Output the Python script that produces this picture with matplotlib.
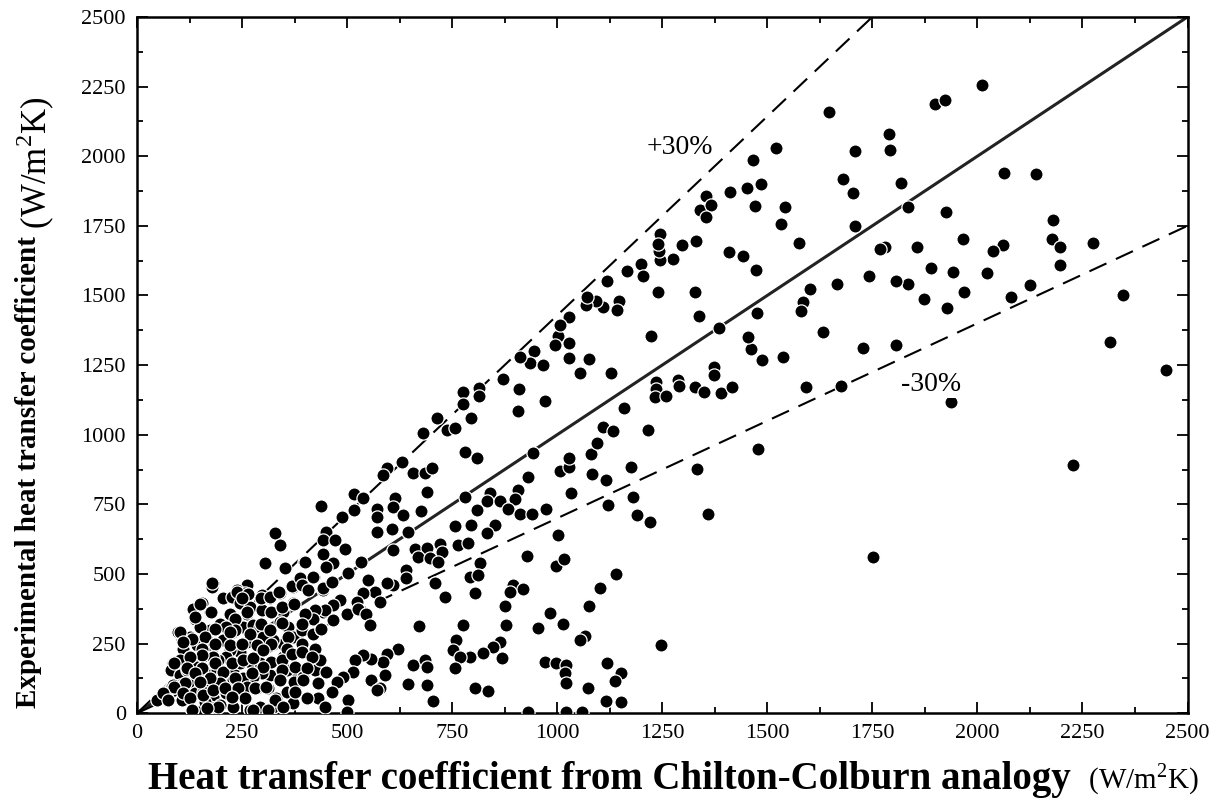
import numpy as np
import matplotlib
matplotlib.use("Agg")
import matplotlib.pyplot as plt
from matplotlib.ticker import MultipleLocator

plt.rcParams['font.family'] = ['Liberation Serif', 'DejaVu Serif']
plt.rcParams['mathtext.fontset'] = 'custom'
plt.rcParams['mathtext.rm'] = 'Liberation Serif'

points = [
    # dense cluster, low values
    (304, 538), (352, 523), (261, 460), (237, 442), (257, 430), (182, 466), (178, 454), (154, 394),
    (134, 376), (138, 340), (174, 364), (205, 412), (225, 418), (245, 394), (269, 382), (297, 424),
    (316, 412), (340, 430), (372, 454), (372, 394), (348, 364), (320, 364), (297, 370), (261, 358),
    (233, 340), (221, 358), (197, 322), (174, 298), (150, 310), (126, 274), (106, 268), (98, 292),
    (110, 232), (142, 244), (166, 262), (182, 238), (205, 262), (229, 292), (253, 310), (277, 316),
    (293, 310), (316, 298), (340, 328), (360, 310), (372, 274), (348, 250), (324, 262), (300, 274),
    (285, 244), (261, 256), (245, 220), (221, 226), (213, 202), (193, 190), (178, 202), (154, 202),
    (126, 202), (102, 190), (86, 179), (82, 155), (102, 137), (118, 155), (142, 167), (154, 125),
    (174, 137), (190, 155), (205, 143), (229, 155), (245, 179), (269, 185), (293, 179), (320, 185),
    (348, 202), (372, 214), (380, 143), (356, 155), (340, 119), (316, 137), (297, 143), (277, 131),
    (253, 125), (229, 119), (205, 95), (186, 107), (166, 101), (142, 113), (122, 107), (102, 101),
    (82, 89), (63, 71), (86, 101), (114, 71), (138, 71), (158, 77), (182, 59), (213, 71),
    (237, 89), (261, 95), (285, 89), (312, 89), (332, 53), (356, 77), (376, 83), (372, 35),
    (324, 23), (293, 23), (269, 11), (229, 23), (197, 29), (174, 23), (154, 11), (130, 11),
    (162, 41), (106, 47), (70, 59), (47, 47),
    (179, 468), (237, 436), (265, 428), (250, 412), (150, 392), (176, 364), (138, 344), (233, 340),
    (263, 364), (295, 412), (316, 418), (338, 436), (368, 456), (389, 484), (398, 544), (422, 490),
    (443, 444), (320, 364), (344, 382), (374, 392), (443, 364), (420, 340), (344, 325), (295, 322),
    (269, 286), (233, 298), (211, 308), (186, 301), (163, 274), (130, 268), (102, 292), (110, 256),
    (154, 232), (186, 250), (221, 292), (221, 244), (249, 250), (285, 244), (316, 298), (320, 250),
    (360, 274), (392, 298), (420, 286), (439, 301), (423, 232), (392, 250), (356, 232), (182, 203),
    (154, 209), (126, 203), (89, 179), (118, 164), (154, 161), (186, 179), (205, 149), (225, 179),
    (253, 191), (277, 197), (300, 226), (320, 185), (344, 191), (368, 212), (392, 220), (427, 191),
    (376, 167), (344, 155), (300, 167), (273, 143), (233, 125), (198, 107), (174, 125), (138, 143),
    (114, 107), (89, 95), (63, 71), (75, 49), (110, 71), (150, 113), (126, 53), (158, 65),
    (182, 83), (209, 89), (241, 89), (281, 92), (308, 95), (340, 119), (374, 113), (396, 131),
    (423, 155), (376, 77), (404, 53), (430, 53), (328, 47), (312, 11), (277, 11), (257, 53),
    (225, 59), (193, 23), (166, 17), (130, 13), (348, 23),
    # 400 - 800
    (451, 651), (443, 621), (471, 621), (495, 591), (443, 573), (467, 538), (451, 526), (400, 544),
    (420, 490), (392, 460), (408, 442), (443, 448), (463, 472), (503, 502), (534, 544), (570, 649),
    (608, 660), (645, 649), (610, 586), (661, 591), (689, 595), (721, 609), (669, 562), (697, 559),
    (725, 579), (717, 544), (757, 672), (796, 675), (764, 603), (788, 612), (816, 540), (792, 490),
    (812, 496), (641, 514), (641, 484), (610, 460), (594, 466), (550, 478), (566, 436), (578, 400),
    (538, 430), (523, 400), (483, 406), (467, 388), (447, 370), (423, 370), (420, 340), (400, 358),
    (392, 322), (439, 304), (467, 334), (499, 358), (526, 376), (546, 358), (554, 316), (709, 466),
    (733, 416), (804, 430), (792, 202), (776, 316), (760, 262), (753, 226), (768, 202), (757, 161),
    (672, 313), (622, 232), (594, 214), (586, 185), (558, 196), (538, 209), (519, 191), (515, 149),
    (558, 119), (578, 89), (590, 137), (570, 83), (491, 131), (475, 113), (451, 149), (435, 191),
    (416, 203), (404, 161), (396, 119), (431, 107), (463, 77), (503, 47), (447, 23), (499, 5),
    (404, 53), (657, 173), (685, 191), (689, 167), (646, 104), (689, 101), (705, 43), (804, 89),
    (814, 1166), (776, 1154), (776, 1112), (814, 1139), (796, 1061), (713, 1061), (737, 1017),
    (757, 1023), (681, 1005), (780, 939), (810, 915), (630, 903), (594, 879), (586, 855), (657, 861),
    (685, 861), (701, 879), (689, 795), (780, 777), (614, 771), (516, 787), (538, 771), (439, 744),
    (487, 705), (516, 729), (570, 735), (610, 741), (570, 705), (634, 711), (677, 727), (808, 729),
    (328, 646), (340, 604),
    # 800 - 1700
    (1002, 1354), (994, 1322), (1029, 1328), (1029, 1274), (1076, 1272), (1054, 1220), (1128, 1223),
    (945, 1302), (935, 1258), (967, 1252), (911, 1280), (870, 1199), (910, 1163), (906, 1086),
    (971, 1122), (1159, 1097), (1236, 1190), (1235, 1163), (1232, 1134), (1258, 1139), (1288, 1196),
    (1289, 1175), (1327, 1172), (1349, 1154), (1373, 1244), (1373, 1214), (1389, 1151), (1415, 1170),
    (1462, 1308), (1487, 1268), (1538, 1278), (1593, 1172), (1676, 1175), (1478, 947), (1752, 562),
    (943, 935), (931, 847), (907, 801), (899, 768), (840, 789), (832, 763), (864, 763), (883, 735),
    (911, 717), (939, 717), (973, 732), (852, 676), (832, 648), (1006, 871), (1029, 885), (1029, 918),
    (1032, 792), (1080, 931), (1094, 971), (1108, 1026), (1132, 1013), (1082, 859), (1116, 839),
    (1175, 883), (1216, 1017), (1181, 777), (1189, 711), (1220, 687), (1121, 747), (1332, 877),
    (1358, 715), (1002, 640), (929, 564), (997, 528), (1017, 552), (1141, 500), (1101, 448),
    (1076, 385), (983, 361), (1014, 319), (955, 307), (1066, 277), (1054, 262), (875, 385), (878, 315),
    (895, 460), (918, 446), (887, 436), (865, 257), (848, 239), (868, 197), (824, 215), (971, 185),
    (997, 179), (1022, 173), (1018, 143), (1021, 109), (1119, 181), (1153, 145), (1137, 116),
    (1074, 89), (1117, 45), (1151, 39), (836, 81), (1247, 245), (931, 5), (1021, 5), (1060, 5),
    (1647, 2157), (1521, 2031), (1708, 2019), (1466, 1987), (1680, 1918), (1705, 1869), (1412, 1873),
    (1452, 1885), (1485, 1901), (1470, 1822), (1542, 1818), (1533, 1757), (1355, 1857), (1339, 1807),
    (1367, 1825), (1355, 1783), (1708, 1751), (1575, 1688), (1667, 1540), (1601, 1522), (1585, 1478),
    (1581, 1444), (1475, 1436), (1632, 1370), (1454, 1352), (1385, 1382), (1409, 1655), (1442, 1643),
    (1474, 1592), (1331, 1697), (1298, 1681), (1276, 1631), (1245, 1628), (1242, 1658), (1244, 1721),
    (1240, 1685), (1200, 1612), (1203, 1570), (1166, 1586), (1119, 1552), (1147, 1480), (1142, 1446),
    (1109, 1458), (1093, 1480), (1069, 1466), (1072, 1496), (1240, 1512), (1327, 1512), (1337, 1427),
    (1028, 1422), (1006, 1394), (1224, 1356),
    # high values
    (1789, 2080), (1791, 2022), (1818, 1904), (1834, 1818), (2063, 1940), (2139, 1936), (1925, 1800),
    (2180, 1771), (2177, 1702), (2196, 1674), (2196, 1609), (2274, 1688), (2060, 1681), (2036, 1660),
    (1965, 1703), (2022, 1580), (1941, 1584), (1967, 1512), (2124, 1537), (2081, 1494), (2346, 1501),
    (2315, 1333), (2448, 1232), (2227, 891), (1937, 1117), (1856, 1674), (1889, 1598), (1872, 1487),
    (1927, 1455), (1834, 1541), (1806, 1552), (1780, 1674), (1768, 1667), (1741, 1570), (1727, 1311),
    (1806, 1322), (1899, 2188), (1922, 2202), (2012, 2255),
]
h_chilton = np.array([p[0] for p in points], dtype=float)
h_exp = np.array([p[1] for p in points], dtype=float)

band = 0.30
ticks = np.arange(0, 2501, 250)

fig = plt.figure(figsize=(12.23, 8.05), dpi=100)
ax = fig.add_axes([0.112, 0.114, 0.859, 0.865])

line_x = np.array([0, 2500])
ax.plot(line_x, line_x, color='#222222', lw=2.2, zorder=2)
ax.plot(line_x, line_x * (1 - band), color='black', lw=1.5, dashes=(9, 5), zorder=2)
ax.plot(line_x, line_x / (1 - band), color='black', lw=1.5, dashes=(9, 5), zorder=2)

ax.scatter(h_chilton, h_exp, s=90, c='black', edgecolors='white', linewidths=0.9, zorder=3)

ax.text(1292, 2030, '+30%', fontsize=20, ha='center', va='center', zorder=4,
        bbox=dict(facecolor='white', edgecolor='none', pad=0.5))
ax.text(1889, 1180, '-30%', fontsize=20, ha='center', va='center', zorder=4,
        bbox=dict(facecolor='white', edgecolor='none', pad=0.5))

ax.set_xlim(0, 2500)
ax.set_ylim(0, 2500)
ax.set_xticks(ticks)
ax.set_yticks(ticks)
ax.xaxis.set_minor_locator(MultipleLocator(125))
ax.yaxis.set_minor_locator(MultipleLocator(125))
ax.tick_params(which='both', direction='in', top=True, right=True, width=1.3)
ax.tick_params(which='major', length=8, labelsize=16, pad=8)
ax.tick_params(which='minor', length=4)
for s in ax.spines.values():
    s.set_linewidth(1.8)

xl = fig.text(0.121, 0.02, 'Heat transfer coefficient from Chilton-Colburn analogy',
              fontsize=28, fontweight='bold', ha='left', va='baseline')
ax.annotate('  (W/m$^2$K)', xy=(1, 0), xycoords=xl, xytext=(2, 1), textcoords='offset points',
            fontsize=21, ha='left', va='bottom')

yl = fig.text(0.012, 0.12, 'Experimental heat transfer coefficient',
              fontsize=21, fontweight='bold', rotation=90, ha='left', va='bottom')
ax.annotate(' (W/m$^2$K)', xy=(0, 1), xycoords=yl, fontsize=25, rotation=90,
            ha='left', va='bottom')

fig.savefig('out.png', dpi=100)
